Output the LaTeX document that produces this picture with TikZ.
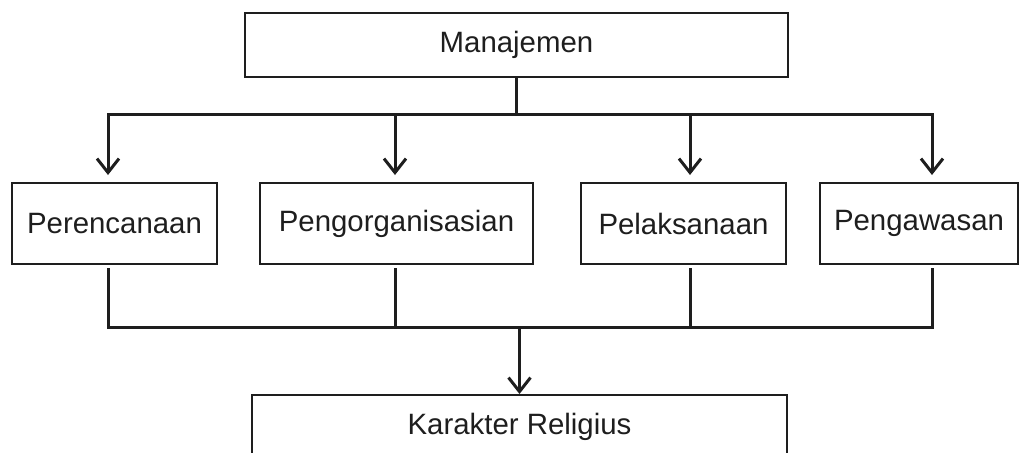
\documentclass[tikz,border=0pt]{standalone}
\usepackage{fontspec}
\setmainfont{Liberation Sans}
\usetikzlibrary{arrows.meta,positioning,calc}
\definecolor{inkdark}{HTML}{1E1E1E}

\begin{document}
\begin{tikzpicture}[
  x=0.5pt, y=0.5pt,
  font=\fontsize{14.7}{17}\selectfont,
  box/.style = {draw=inkdark, line width=1pt, inner sep=0pt, text=inkdark,
                minimum height=40.5pt},
  ln/.style  = {draw=inkdark, line width=1.5pt},
  bus/.style = {ln, line cap=rect},
  arr/.style = {ln, -{Straight Barb[length=7pt, width=11pt]}},
]
\useasboundingbox (0,0) rectangle (1019,452);
\clip (0,0) rectangle (1019,452);

% --- top and bottom ----------------------------------------------------------------------------
\node[box, minimum width=271.5pt, minimum height=32pt] (mgmt) at (516.5,407) {Manajemen};
\node[box, minimum width=267.5pt, minimum height=32pt] (kar)  at (519.5,25)  {Karakter Religius};

% --- the four functions ------------------------------------------------------------------------
\node[box, minimum width=102.5pt] (ren) at (114.5,228.5) {Perencanaan};
\node[box, minimum width=136.5pt] (org) at (396.5,228.5) {Pengorganisasian};
\node[box, minimum width=102.5pt] (lak) at (683.5,228.5) {Pelaksanaan};
\node[box, minimum width=99pt]    (was) at (919,228.5)   {Pengawasan};

% --- fan out ----------------------------------------------------------------------------------
\foreach \x/\n [count=\i] in {108/ren,395/org,690/lak,932/was} {
  \coordinate (t\i) at (\x,338);
  \coordinate (b\i) at (\x,125);
  \draw[arr, shorten >=3.5pt] (t\i) -- (t\i |- \n.north);
  \draw[ln, shorten <=1.5pt]  (b\i |- \n.south) -- (b\i);
}
\draw[ln]  (mgmt.south) -- (mgmt.south |- t1);
\draw[bus] (t1) -- (t4);

% --- fan in -----------------------------------------------------------------------------------
\draw[bus] (b1) -- (b4);
\draw[arr] (kar.north |- b1) -- (kar.north);

\end{tikzpicture}
\end{document}
